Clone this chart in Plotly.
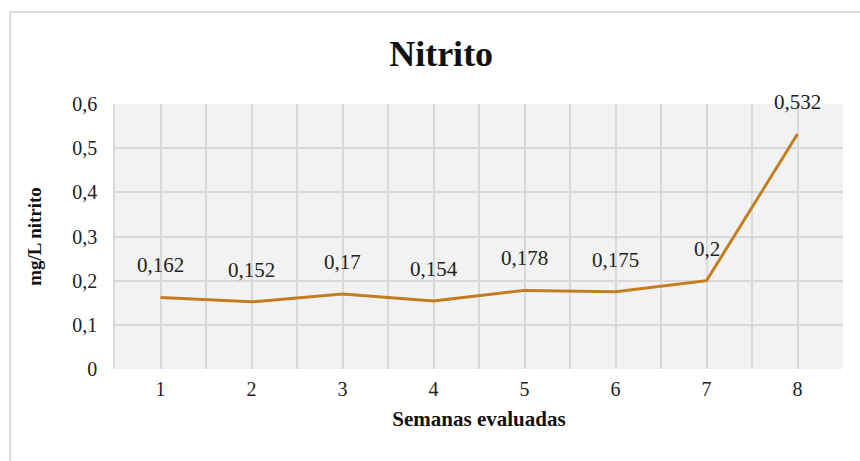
import plotly.graph_objects as go

# Weekly nitrite readings
weeks = [1, 2, 3, 4, 5, 6, 7, 8]
nitrito = [0.162, 0.152, 0.17, 0.154, 0.178, 0.175, 0.2, 0.532]
y_ticks = [0, 0.1, 0.2, 0.3, 0.4, 0.5, 0.6]

SERIF = "Liberation Serif, Times New Roman, serif"
LINE_COLOR = "#c47c1e"
GRID = "#d9d9d9"


def coma(v):
    return f"{v:g}".replace(".", ",")


fig = go.Figure()
fig.add_trace(go.Scatter(
    x=weeks, y=nitrito, mode="lines",
    line=dict(color=LINE_COLOR, width=3),
    hoverinfo="skip", showlegend=False,
))

# value labels above each point
for w, v in zip(weeks, nitrito):
    fig.add_annotation(
        x=w, y=v, text=coma(v), showarrow=False,
        yshift=32, font=dict(family=SERIF, size=21, color="#222222"),
    )

# grid at every half week, labels only on whole weeks
half_steps = sorted([w - 0.5 for w in weeks] + weeks + [weeks[-1] + 0.5])
tick_text = [str(int(t)) if float(t).is_integer() else "" for t in half_steps]

fig.update_xaxes(
    range=[weeks[0] - 0.5, weeks[-1] + 0.5],
    tickvals=half_steps, ticktext=tick_text,
    showgrid=True, gridcolor=GRID, gridwidth=1.5,
    zeroline=False, showline=False, ticks="", ticklabelstandoff=6,
    tickfont=dict(family=SERIF, size=20, color="#222222"),
    title=dict(text="<b>Semanas evaluadas</b>", standoff=12,
               font=dict(family=SERIF, size=21, color="#111111")),
)
fig.update_yaxes(
    range=[0, 0.6], tickvals=y_ticks, ticktext=[coma(t) for t in y_ticks],
    showgrid=True, gridcolor=GRID, gridwidth=1.5,
    zeroline=False, showline=True, linecolor=GRID, linewidth=1.5,
    ticks="", ticklabelstandoff=12,
    tickfont=dict(family=SERIF, size=20, color="#222222"),
    title=dict(text="<b>mg/L nitrito</b>", standoff=26,
               font=dict(family=SERIF, size=19, color="#111111")),
)

# outer chart frame
fig.add_shape(type="rect", xref="paper", yref="paper",
              x0=-0.144, y0=-0.6, x1=1.2, y1=1.347,
              line=dict(color="#dcdcdc", width=2), layer="below")

fig.update_layout(
    width=860, height=461,
    margin=dict(l=115, r=17, t=104, b=92),
    paper_bgcolor="white", plot_bgcolor="#f2f2f2",
    title=dict(text="<b>Nitrito</b>", xref="paper", x=0.448, xanchor="center",
               y=0.885, yanchor="middle",
               font=dict(family=SERIF, size=36, color="#111111")),
)

fig.write_html("out.html")
